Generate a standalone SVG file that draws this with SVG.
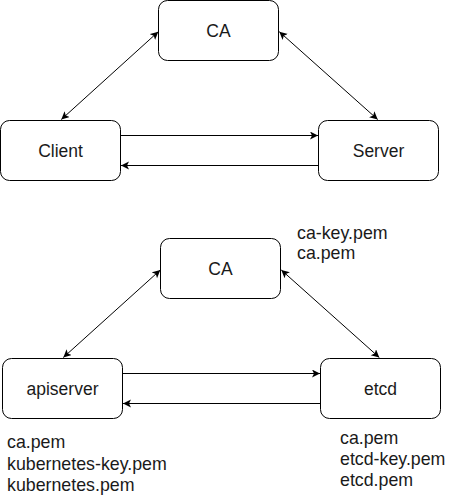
<svg xmlns="http://www.w3.org/2000/svg" width="453" height="499" viewBox="0 0 453 499">
<style>
.box{fill:#fff;stroke:#000;stroke-width:1}
.lbl{font-family:"Liberation Sans",Arial,sans-serif;font-size:17.5px;fill:#1a1a1a;text-anchor:middle}
.note{font-family:"Liberation Sans",Arial,sans-serif;font-size:17.8px;fill:#1a1a1a}
.edge{fill:none;stroke:#000;stroke-width:1}
</style>
<defs>
<marker id="arr" markerUnits="userSpaceOnUse" markerWidth="10" markerHeight="10" refX="8" refY="4" orient="auto-start-reverse">
<path d="M0,0 L8,4 L0,8 L2,4 Z" fill="#000"/>
</marker>
</defs>
<rect width="453" height="499" fill="#fff"/>
<g id="connectors">
<line class="edge" x1="158.3" y1="31.7" x2="61.3" y2="119.5" marker-start="url(#arr)" marker-end="url(#arr)"/>
<line class="edge" x1="279.3" y1="31.7" x2="377.7" y2="119.5" marker-start="url(#arr)" marker-end="url(#arr)"/>
<line class="edge" x1="120.5" y1="135.5" x2="318" y2="135.5" marker-end="url(#arr)"/>
<line class="edge" x1="318.5" y1="165.5" x2="121" y2="165.5" marker-end="url(#arr)"/>
<line class="edge" x1="160.3" y1="270" x2="63.3" y2="357.5" marker-start="url(#arr)" marker-end="url(#arr)"/>
<line class="edge" x1="281.3" y1="270" x2="379.3" y2="357.5" marker-start="url(#arr)" marker-end="url(#arr)"/>
<line class="edge" x1="122.5" y1="373.5" x2="320" y2="373.5" marker-end="url(#arr)"/>
<line class="edge" x1="320.5" y1="403.5" x2="123" y2="403.5" marker-end="url(#arr)"/>
</g>
<g id="ca-top"><rect class="box" x="158.5" y="0.5" width="120" height="60" rx="9"/><text class="lbl" x="218.5" y="36.5">CA</text></g>
<g id="client"><rect class="box" x="0.5" y="120.5" width="120" height="60" rx="9"/><text class="lbl" x="60.5" y="156.5">Client</text></g>
<g id="server"><rect class="box" x="318.5" y="120.5" width="120" height="60" rx="9"/><text class="lbl" x="378.5" y="156.5">Server</text></g>
<g id="ca-bottom"><rect class="box" x="160.5" y="238.5" width="120" height="60" rx="9"/><text class="lbl" x="220.5" y="274.5">CA</text></g>
<g id="apiserver"><rect class="box" x="2.5" y="358.5" width="120" height="60" rx="9"/><text class="lbl" x="62.5" y="394.5">apiserver</text></g>
<g id="etcd"><rect class="box" x="320.5" y="358.5" width="120" height="60" rx="9"/><text class="lbl" x="380.5" y="394.5">etcd</text></g>
<g id="ca-files"><text class="note" x="297" y="239">ca-key.pem</text><text class="note" x="297" y="259">ca.pem</text></g>
<g id="apiserver-files"><text class="note" x="7" y="448">ca.pem</text><text class="note" x="7" y="469.5">kubernetes-key.pem</text><text class="note" x="7" y="491">kubernetes.pem</text></g>
<g id="etcd-files"><text class="note" x="340" y="443.5">ca.pem</text><text class="note" x="340" y="465">etcd-key.pem</text><text class="note" x="340" y="486">etcd.pem</text></g>
</svg>
